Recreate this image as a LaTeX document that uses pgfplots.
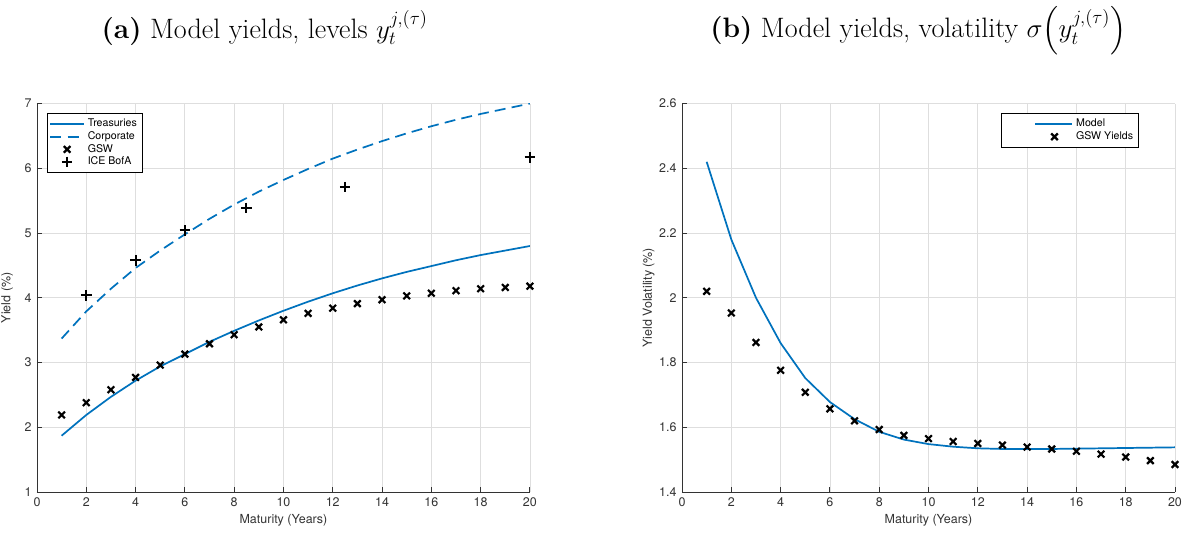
\documentclass[border=0pt]{standalone}
\usepackage{exscale}
\usepackage{fontspec}
\usepackage{pgfplots}
\pgfplotsset{compat=1.18}
\newfontfamily\hel{TeX Gyre Heros}
\definecolor{mblue}{rgb}{0,0.447,0.741}
\definecolor{axgray}{gray}{0.2}
\pgfplotsset{mystyle/.style={
  width=316pt, height=249pt, scale only axis,
  xmin=0, xmax=20, xtick={0,2,...,20},
  axis x line*=bottom, axis y line*=left,
  grid=major, major grid style={black!13, line width=0.5pt},
  axis line style={axgray, line width=0.6pt},
  tick style={axgray, line width=0.6pt},
  tick align=inside, major tick length=3pt,
  ticklabel style={font=\hel\fontsize{8}{9}\selectfont, text=axgray},
  label style={font=\hel\fontsize{8}{9}\selectfont, text=axgray},
  /pgf/number format/assume math mode=true,
  xlabel={Maturity (Years)},
  xlabel style={yshift=2pt},
  legend cell align=left,
  legend style={font=\hel\fontsize{6.8}{7.5}\selectfont, draw=black, line width=0.6pt, inner sep=1.5pt, row sep=-2.5pt},
  legend image code/.code={\draw[#1] (0cm,0cm) -- (0.75cm,0cm);},
}}
\pgfplotsset{xmk/.style={only marks, mark=x, mark size=3pt, black, mark options={line width=1.4pt}}}
\pgfplotsset{pmk/.style={only marks, mark=+, mark size=3.4pt, black, mark options={line width=1.3pt}}}
\pgfplotsset{onlymarkslegend/.style={legend image code/.code={\draw[##1] plot coordinates {(0.375cm,0cm)};}}}
\pgfplotsset{widelinelegend/.style={legend image code/.code={\path[draw=none] (0cm,0cm) -- (1.55cm,0cm);\draw[##1] (0.72cm,0cm) -- (1.55cm,0cm);}}}
\pgfplotsset{widemarklegend/.style={legend image code/.code={\path[draw=none] (0cm,0cm) -- (1.55cm,0cm);\draw[##1] plot coordinates {(1.15cm,0cm)};}}}
\begin{document}
\begin{tikzpicture}
\useasboundingbox (-23.7pt,-26.3pt) rectangle (740.4pt,315.4pt);
\begin{axis}[mystyle, at={(0pt,0pt)}, anchor=south west,
  ymin=1, ymax=7, ytick={1,2,...,7},
  ylabel={Yield (\%)}, ylabel style={yshift=0.5pt},
  legend style={at={(0.02,0.975)}, anchor=north west}]
\addplot[mblue, line width=1.1pt] coordinates {
(1,1.87) (2,2.19) (3,2.47) (4,2.72) (5,2.94) (6,3.13) (7,3.32) (8,3.49) (9,3.65) (10,3.80) (11,3.94) (12,4.07) (13,4.19) (14,4.30) (15,4.40) (16,4.49) (17,4.58) (18,4.66) (19,4.73) (20,4.80)};
\addlegendentry{Treasuries}
\addplot[mblue, line width=1.1pt, dash pattern=on 7pt off 4pt] coordinates {
(1,3.37) (2,3.79) (3,4.14) (4,4.46) (5,4.73) (6,4.98) (7,5.22) (8,5.44) (9,5.64) (10,5.82) (11,5.99) (12,6.15) (13,6.29) (14,6.42) (15,6.54) (16,6.65) (17,6.75) (18,6.84) (19,6.92) (20,7.00)};
\addlegendentry{Corporate}
\addplot[xmk, onlymarkslegend] coordinates {
(1,2.19) (2,2.38) (3,2.58) (4,2.77) (5,2.96) (6,3.13) (7,3.29) (8,3.43) (9,3.55) (10,3.66) (11,3.76) (12,3.84) (13,3.91) (14,3.97) (15,4.03) (16,4.07) (17,4.11) (18,4.14) (19,4.16) (20,4.18)};
\addlegendentry{GSW}
\addplot[pmk, onlymarkslegend] coordinates {
(2,4.04) (4,4.58) (6,5.04) (8.5,5.39) (12.5,5.71) (20,6.17)};
\addlegendentry{ICE BofA}
\end{axis}
\node[anchor=base, inner sep=0pt, font=\fontsize{18}{20}\selectfont] at (146pt,291pt) {\textbf{(a)} Model yields, levels $y_t^{j,(\tau)}$};
\begin{axis}[mystyle, at={(413.5pt,0pt)}, anchor=south west,
  ymin=1.4, ymax=2.6, ytick={1.4,1.6,...,2.6},
  yticklabel style={/pgf/number format/fixed, /pgf/number format/precision=1},
  ylabel={Yield Volatility (\%)}, ylabel style={yshift=-4pt},
  legend style={at={(0.927,0.975)}, anchor=north east}]
\addplot[mblue, line width=1.1pt, widelinelegend] coordinates {
(1,2.42) (2,2.18) (3,2.00) (4,1.86) (5,1.752) (6,1.678) (7,1.625) (8,1.586) (9,1.562) (10,1.548) (11,1.540) (12,1.535) (13,1.533) (14,1.533) (15,1.533) (16,1.534) (17,1.535) (18,1.536) (19,1.537) (20,1.538)};
\addlegendentry{Model}
\addplot[xmk, widemarklegend] coordinates {
(1,2.02) (2,1.953) (3,1.862) (4,1.776) (5,1.708) (6,1.657) (7,1.620) (8,1.593) (9,1.575) (10,1.565) (11,1.556) (12,1.550) (13,1.545) (14,1.539) (15,1.533) (16,1.526) (17,1.517) (18,1.508) (19,1.497) (20,1.485)};
\addlegendentry{GSW Yields}
\end{axis}
\node[anchor=base, inner sep=0pt, font=\fontsize{18}{20}\selectfont] at (565pt,291.3pt) {\textbf{(b)} Model yields, volatility $\sigma\Bigl(y_t^{j,(\tau)}\Bigr)$};
\end{tikzpicture}
\end{document}
